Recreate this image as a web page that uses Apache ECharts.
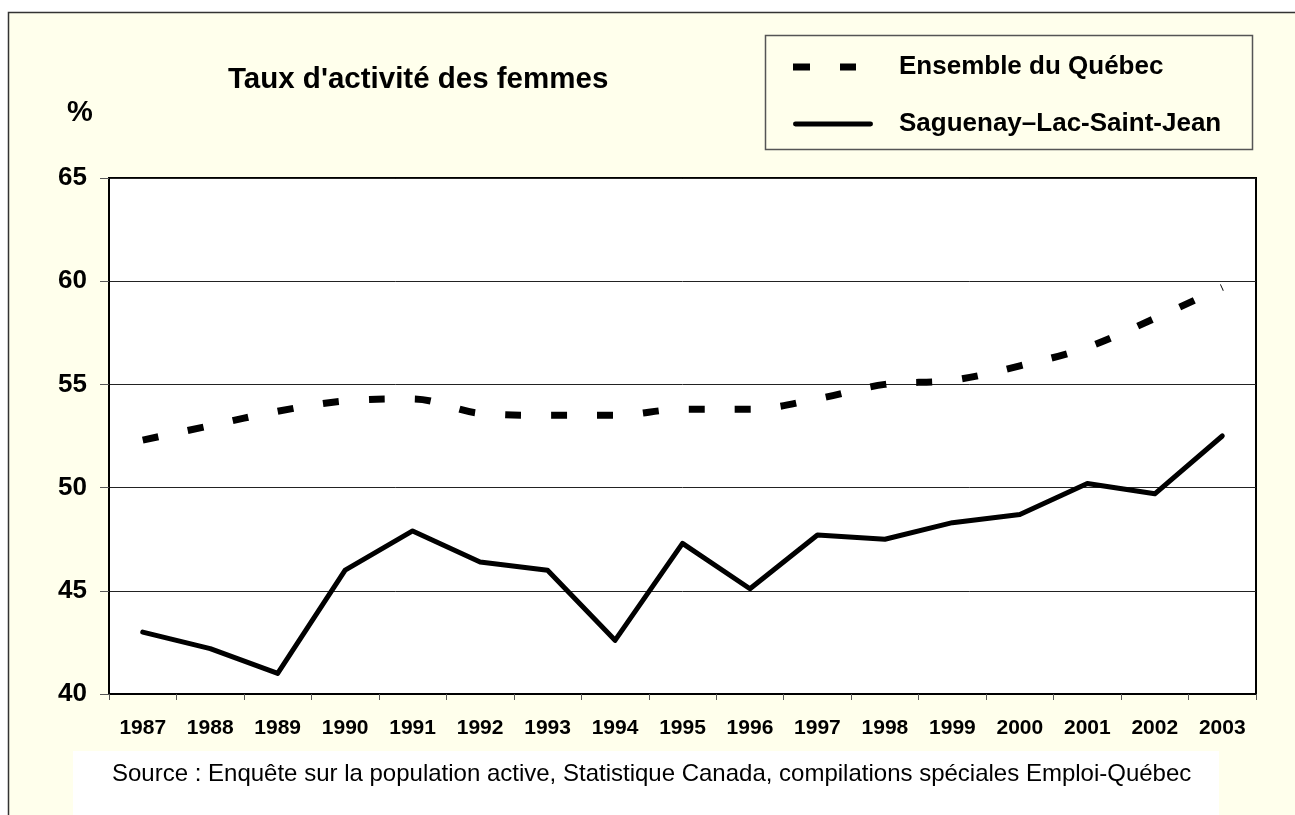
<!DOCTYPE html>
<html>
<head>
<meta charset="utf-8">
<script src="https://cdn.jsdelivr.net/npm/echarts@6/dist/echarts.min.js"></script>
<style>
html,body{margin:0;padding:0;background:#fff;}
#chart{width:1295px;height:815px;}
</style>
</head>
<body>
<div id="chart"></div>
<script>
const years = ['1987','1988','1989','1990','1991','1992','1993','1994','1995','1996','1997','1998','1999','2000','2001','2002','2003'];
const quebec = [52.3, 53.0, 53.7, 54.2, 54.3, 53.6, 53.5, 53.5, 53.8, 53.8, 54.3, 55.0, 55.2, 55.9, 56.8, 58.2, 59.7];
const saguenay = [43.0, 42.2, 41.0, 46.0, 47.9, 46.4, 46.0, 42.6, 47.3, 45.1, 47.7, 47.5, 48.3, 48.7, 50.2, 49.7, 52.5];
const seriesNames = ['Ensemble du Québec', 'Saguenay–Lac-Saint-Jean'];
const titleText = "Taux d'activité des femmes";
const unitText = '%';
const sourceText = 'Source : Enquête sur la population active, Statistique Canada, compilations spéciales Emploi-Québec';

const FONT = "'Liberation Sans', Arial, sans-serif";
const chart = echarts.init(document.getElementById('chart'), null, {renderer: 'canvas'});
const dash = [16, 30];
const dashIcon = 'path://M0,0h17v7h-17z M47,0h16v7h-16z M79.95,3.45h0.05v0.05h-0.05z';
const solidIcon = 'path://M2,1h76a2.5,2.5 0 0 1 0,5h-76a2.5,2.5 0 0 1 0,-5z M0,0h0.05v0.05h-0.05z M79.95,6.95h0.05v0.05h-0.05z';

chart.setOption({
  backgroundColor: '#ffffff',
  animation: false,
  graphic: [
    {type: 'rect', z: -10, shape: {x: 8.5, y: 12.5, width: 1300, height: 820},
     style: {fill: '#FFFFEC', stroke: '#333', lineWidth: 1.5}},
    {type: 'rect', z: -5, shape: {x: 765.5, y: 35.5, width: 487, height: 114},
     style: {fill: '#FFFFEC', stroke: '#555', lineWidth: 1.5}},
    {type: 'rect', z: -5, shape: {x: 73, y: 751, width: 1146, height: 70},
     style: {fill: '#ffffff'}},
    {type: 'text', left: 228, top: 65, style: {text: titleText, font: "bold 29.5px " + FONT, fill: '#000'}},
    {type: 'text', left: 67, top: 98, style: {text: unitText, font: "bold 29px " + FONT, fill: '#000'}},
    {type: 'text', left: 112, top: 762, style: {text: sourceText, font: "24px " + FONT, fill: '#000'}}
  ],
  legend: {
    show: true,
    orient: 'vertical',
    left: 793, top: 52,
    itemWidth: 80, itemHeight: 7,
    itemGap: 27,
    padding: 0,
    textStyle: {fontFamily: FONT, fontWeight: 'bold', fontSize: 26, color: '#000', lineHeight: 30, padding: [0, 0, 0, 21]},
    data: [
      {name: seriesNames[0], icon: dashIcon, itemStyle: {color: '#000', borderWidth: 0}},
      {name: seriesNames[1], icon: solidIcon, itemStyle: {color: '#000', borderWidth: 0}}
    ]
  },
  grid: {
    left: 109, right: 39, top: 178, bottom: 121,
    show: true, backgroundColor: '#ffffff', borderColor: '#000', borderWidth: 2
  },
  xAxis: {
    type: 'category',
    data: years,
    boundaryGap: true,
    axisLine: {lineStyle: {color: '#000', width: 2}},
    axisTick: {show: true, inside: false, length: 6, lineStyle: {color: '#555', width: 1}},
    axisLabel: {fontFamily: FONT, fontWeight: 'bold', fontSize: 21, color: '#000', margin: 24, interval: 0},
    splitLine: {show: false}
  },
  yAxis: {
    type: 'value',
    min: 40, max: 65, interval: 5,
    axisLine: {show: true, lineStyle: {color: '#000', width: 2}},
    axisTick: {show: true, inside: false, length: 9, lineStyle: {color: '#555', width: 1}},
    axisLabel: {fontFamily: FONT, fontWeight: 'bold', fontSize: 26, color: '#000', margin: 22},
    splitLine: {show: true, lineStyle: {color: '#222', width: 1}}
  },
  series: [
    {
      name: seriesNames[0], type: 'line', data: quebec,
      smooth: 0.35, symbol: 'none',
      lineStyle: {color: '#000', width: 7, type: dash, cap: 'butt'},
      itemStyle: {color: '#000'}
    },
    {
      name: seriesNames[1], type: 'line', data: saguenay,
      smooth: false, symbol: 'none',
      lineStyle: {color: '#000', width: 5, type: 'solid', join: 'round', cap: 'round'},
      itemStyle: {color: '#000'}
    }
  ]
});
</script>
</body>
</html>
